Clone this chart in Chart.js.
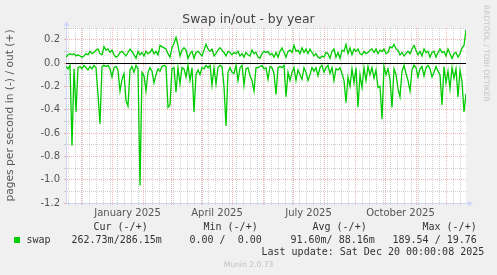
<!DOCTYPE html>
<html lang="en">
<head>
<meta charset="UTF-8">
<title>Swap in/out - by year</title>
<script src="https://cdn.jsdelivr.net/npm/chart.js"></script>
<style>
  body { margin: 0; background: #f0f0f0; }
  #wrap { position: relative; width: 497px; height: 275px; overflow: hidden; }
  #wrap canvas { position: absolute; left: 0; top: 0; }
  .txt { position: absolute; white-space: pre; }
  .mono { font-family: 'DejaVu Sans Mono', monospace; font-size: 10px; line-height: 12px; color: #333; }
</style>
</head>
<body>
<div id="wrap">
  <canvas id="swapChart" width="497" height="275"></canvas>
  <div class="txt" style="left:0;top:12px;width:497px;text-align:center;font:12.4px 'DejaVu Sans';line-height:14px;color:#444">Swap in/out - by year</div>
  <div class="txt" style="left:482px;top:5px;writing-mode:vertical-rl;font:7.5px 'DejaVu Sans';line-height:9px;color:#c4c4c4">RRDTOOL / TOBI OETIKER</div>

  <div class="txt mono" style="left:93.5px;top:221px">Cur (-/+)</div>
  <div class="txt mono" style="left:203.5px;top:221px">Min (-/+)</div>
  <div class="txt mono" style="left:312.5px;top:221px">Avg (-/+)</div>
  <div class="txt mono" style="left:422.5px;top:221px">Max (-/+)</div>

  <div class="txt" style="left:14px;top:237px;width:6px;height:6px;background:#00cc00"></div>
  <div class="txt mono" style="left:26.5px;top:234px">swap</div>
  <div class="txt mono" style="left:71.5px;top:234px">262.73m/286.15m</div>
  <div class="txt mono" style="left:189.5px;top:234px">0.00 /  0.00</div>
  <div class="txt mono" style="left:290.5px;top:234px">91.60m/ 88.16m</div>
  <div class="txt mono" style="left:392.5px;top:234px">189.54 / 19.76</div>

  <div class="txt mono" style="left:261.5px;top:246px">Last update: Sat Dec 20 00:00:08 2025</div>
  <div class="txt" style="left:0;top:259.5px;width:497px;text-align:center;font:7.6px 'DejaVu Sans';line-height:9px;color:#c0c0c0">Munin 2.0.73</div>
</div>
<script>
// samples every 2 days, first one on 16 Nov 2024
var startDate = Date.UTC(2024, 10, 16);
var stepDays = 2;

// pages per second swapped out (+)
var swapOut = [
  0.05,0.07,0.08,0.07,0.08,0.06,0.07,0.06,0.05,0.06,
  0.08,0.07,0.10,0.08,0.09,0.11,0.12,0.08,0.07,0.14,
  0.11,0.12,0.09,0.11,0.07,0.05,0.06,0.09,0.10,0.08,
  0.06,0.09,0.12,0.10,0.07,0.04,0.10,0.07,0.09,0.06,
  0.10,0.08,0.09,0.12,0.08,0.10,0.07,0.15,0.14,0.13,
  0.12,0.08,0.05,0.13,0.17,0.22,0.15,0.06,0.11,0.13,
  0.11,0.04,0.08,0.10,0.04,0.09,0.10,0.08,0.06,0.11,
  0.16,0.12,0.10,0.12,0.06,0.08,0.11,0.13,0.11,0.09,
  0.06,0.10,0.09,0.07,0.09,0.08,0.10,0.06,0.08,0.05,
  0.09,0.07,0.06,0.11,0.08,0.09,0.05,0.04,0.08,0.10,
  0.09,0.10,0.07,0.08,0.05,0.09,0.05,0.10,0.13,0.09,
  0.05,0.10,0.11,0.09,0.15,0.10,0.11,0.08,0.13,0.09,
  0.12,0.08,0.12,0.09,0.06,0.08,0.05,0.04,0.06,0.05,
  0.09,0.08,0.04,0.10,0.12,0.05,0.09,0.04,0.11,0.10,
  0.16,0.08,0.13,0.07,0.12,0.10,0.12,0.08,0.07,0.10,
  0.08,0.09,0.11,0.12,0.09,0.12,0.08,0.11,0.10,0.12,
  0.08,0.09,0.14,0.13,0.16,0.12,0.11,0.07,0.09,0.06,
  0.08,0.10,0.08,0.12,0.15,0.11,0.07,0.10,0.06,0.12,
  0.09,0.10,0.05,0.09,0.10,0.05,0.09,0.12,0.09,0.10,
  0.06,0.12,0.08,0.04,0.08,0.09,0.05,0.08,0.13,0.15,
  0.286
];

// pages per second swapped in (-), drawn below zero
var swapIn = [
  0.03,0.05,0.02,0.71,0.05,0.42,0.04,0.03,0.05,0.02,
  0.04,0.06,0.03,0.05,0.02,0.04,0.27,0.52,0.03,0.02,
  0.03,0.02,0.05,0.12,0.04,0.03,0.06,0.24,0.14,0.09,
  0.32,0.37,0.06,0.03,0.08,0.02,0.05,1.05,0.08,0.11,
  0.24,0.08,0.04,0.07,0.17,0.10,0.05,0.07,0.03,0.02,
  0.03,0.38,0.36,0.05,0.04,0.25,0.04,0.18,0.04,0.05,
  0.12,0.02,0.15,0.04,0.42,0.10,0.06,0.10,0.04,0.05,
  0.02,0.04,0.02,0.19,0.04,0.18,0.04,0.02,0.03,0.20,
  0.54,0.08,0.04,0.08,0.09,0.02,0.15,0.04,0.02,0.19,
  0.05,0.04,0.11,0.15,0.24,0.04,0.04,0.03,0.02,0.05,
  0.04,0.14,0.03,0.04,0.09,0.27,0.04,0.03,0.04,0.02,
  0.29,0.08,0.15,0.08,0.04,0.15,0.06,0.10,0.14,0.04,
  0.08,0.15,0.10,0.04,0.07,0.04,0.11,0.04,0.02,0.08,
  0.04,0.02,0.09,0.04,0.15,0.05,0.06,0.04,0.09,0.15,
  0.34,0.12,0.20,0.05,0.17,0.04,0.38,0.10,0.21,0.04,
  0.15,0.03,0.10,0.04,0.13,0.06,0.21,0.20,0.48,0.03,
  0.10,0.05,0.14,0.38,0.05,0.10,0.22,0.29,0.07,0.02,
  0.09,0.15,0.24,0.06,0.02,0.04,0.12,0.05,0.03,0.11,
  0.04,0.02,0.05,0.12,0.08,0.03,0.07,0.10,0.36,0.03,
  0.17,0.07,0.22,0.04,0.13,0.05,0.29,0.06,0.16,0.42,
  0.263
];

// x labels (centred on their month) and the months they belong to
var xTickLabels = ['January 2025', 'April 2025', 'July 2025', 'October 2025'];
var xTickMonths = [[2025, 0], [2025, 3], [2025, 6], [2025, 9]];
var yMin = -1.2, yMax = 0.3;

var totalDays = (swapOut.length - 1) * stepDays;
function dayOf(y, m, d) { return (Date.UTC(y, m, d) - startDate) / 864e5; }

// x ticks: weekly (monday) minor lines, monthly major lines, mid-month labels
var xKind = {};
var xTicks = [];
var firstMonday = (8 - new Date(startDate).getUTCDay()) % 7;
for (var d = firstMonday; d < totalDays; d += 7) { xKind[d] = 'minor'; }
for (var y = 2024, m = 11; dayOf(y, m, 1) < totalDays; m++) {
    if (m > 11) { m = 0; y++; }
    if (dayOf(y, m, 1) > 0) xKind[dayOf(y, m, 1)] = 'major';
}
var xLabelAt = {};
xTickMonths.forEach(function(ym, i) {
    var mid = (dayOf(ym[0], ym[1], 1) + dayOf(ym[0], ym[1] + 1, 1)) / 2;
    xKind[mid] = 'label';
    xLabelAt[mid] = xTickLabels[i];
});
Object.keys(xKind).forEach(function(k) { xTicks.push(parseFloat(k)); });
xTicks.sort(function(a, b) { return a - b; });

var yTicks = [];
for (var i = Math.round(yMin * 10); i <= Math.round(yMax * 10); i++) yTicks.push(i / 10);
function yMajor(v) { return Math.round(v * 10) % 2 === 0; }

var MAJOR = 'rgba(225,60,60,0.38)';
var MINOR = 'rgba(140,140,140,0.38)';
var AXIS = '#cfd6f8';
var tickFont = { family: "'DejaVu Sans', sans-serif", size: 10 };

var munFrame = {
    id: 'munFrame',
    beforeDraw: function(chart) {
        var a = chart.chartArea, ctx = chart.ctx;
        ctx.save();
        ctx.fillStyle = '#ffffff';
        ctx.fillRect(a.left, a.top, a.right - a.left, a.bottom - a.top);
        ctx.restore();
    },
    beforeDatasetsDraw: function(chart) {
        var a = chart.chartArea, ctx = chart.ctx;
        var y0 = Math.round(chart.scales.y.getPixelForValue(0)) + 0.5;
        ctx.save();
        ctx.strokeStyle = '#000000';
        ctx.lineWidth = 1;
        ctx.beginPath();
        ctx.moveTo(a.left, y0);
        ctx.lineTo(a.right, y0);
        ctx.stroke();
        ctx.restore();
    },
    afterDraw: function(chart) {
        var a = chart.chartArea, ctx = chart.ctx;
        var ax = a.left + 0.5, ay = a.bottom + 0.5;
        ctx.save();
        ctx.strokeStyle = AXIS;
        ctx.fillStyle = AXIS;
        ctx.lineWidth = 1;
        ctx.beginPath();
        ctx.moveTo(ax, a.top); ctx.lineTo(ax, a.top - 3);
        ctx.moveTo(a.right, ay); ctx.lineTo(a.right + 3, ay);
        ctx.stroke();
        ctx.beginPath();
        ctx.moveTo(ax - 3, a.top - 2); ctx.lineTo(ax + 3, a.top - 2); ctx.lineTo(ax, a.top - 7); ctx.closePath();
        ctx.fill();
        ctx.beginPath();
        ctx.moveTo(a.right + 2, ay - 3); ctx.lineTo(a.right + 2, ay + 3); ctx.lineTo(a.right + 7, ay); ctx.closePath();
        ctx.fill();
        ctx.restore();
    }
};

var ctx = document.getElementById('swapChart').getContext('2d');
var swapChart = new Chart(ctx, {
    type: 'line',
    data: {
        datasets: [{
            label: 'swap out',
            data: swapOut.map(function(v, i) { return { x: i * stepDays, y: v }; }),
            borderColor: '#00cc00',
            borderWidth: 1.3,
            pointRadius: 0,
            tension: 0,
            fill: false
        }, {
            label: 'swap in',
            data: swapIn.map(function(v, i) { return { x: i * stepDays, y: -v }; }),
            borderColor: '#00cc00',
            borderWidth: 1.3,
            pointRadius: 0,
            tension: 0,
            fill: false
        }]
    },
    options: {
        responsive: false,
        animation: false,
        devicePixelRatio: 1,
        layout: { padding: { top: 28, right: 31, left: 0, bottom: 0 } },
        plugins: { legend: { display: false }, tooltip: { enabled: false } },
        scales: {
            x: {
                type: 'linear',
                min: 0,
                max: totalDays,
                afterBuildTicks: function(s) { s.ticks = xTicks.map(function(v) { return { value: v }; }); },
                afterFit: function(s) { s.height = 72; },
                ticks: {
                    autoSkip: false,
                    maxRotation: 0,
                    padding: 2,
                    font: tickFont,
                    color: '#555',
                    callback: function(v) { return xLabelAt[v] || ''; }
                },
                grid: {
                    tickLength: 2,
                    color: function(c) {
                        var k = xKind[c.tick.value];
                        return k === 'major' ? MAJOR : (k === 'minor' ? MINOR : 'rgba(0,0,0,0)');
                    }
                },
                border: { color: AXIS, dash: [1, 1] }
            },
            y: {
                min: yMin,
                max: yMax,
                afterBuildTicks: function(s) { s.ticks = yTicks.map(function(v) { return { value: v }; }); },
                afterFit: function(s) { s.width = 66; },
                ticks: {
                    autoSkip: false,
                    padding: 4,
                    font: tickFont,
                    color: '#555',
                    callback: function(v) { return yMajor(v) ? v.toFixed(1) : ''; }
                },
                grid: {
                    tickLength: 2,
                    color: function(c) { return yMajor(c.tick.value) ? MAJOR : MINOR; }
                },
                border: { color: AXIS, dash: [1, 1] },
                title: {
                    display: true,
                    text: 'pages per second in (-) / out (+)',
                    font: { family: "'DejaVu Sans', sans-serif", size: 10.7 },
                    color: '#555',
                    padding: { top: 4, bottom: 0 }
                }
            }
        }
    },
    plugins: [munFrame]
});
</script>
</body>
</html>
